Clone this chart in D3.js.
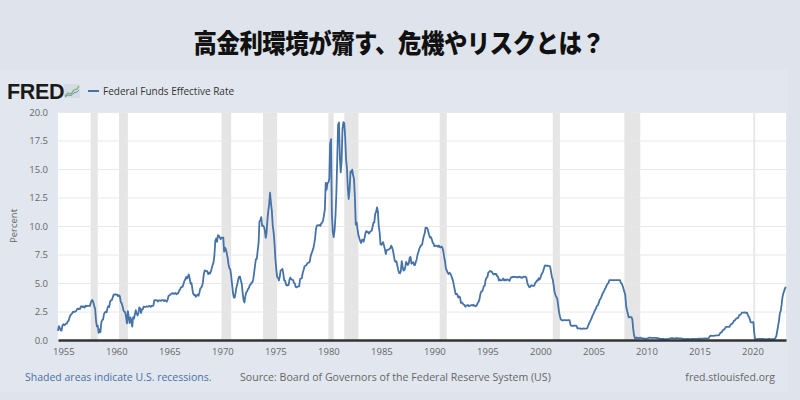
<!DOCTYPE html>
<html><head><meta charset="utf-8">
<script src="https://cdn.jsdelivr.net/npm/d3@7"></script>
<style>
body{margin:0;background:#dfe4ec;}
svg{display:block;}
</style></head>
<body>
<svg id="chart" width="800" height="400"></svg>
<script>
// ---- Data ----
const startYear = 1954, startMonth = 7; // monthly series begins July 1954
const rates = [
// 1954 Jul-Dec
0.80,1.22,1.07,0.85,0.83,1.28,
// 1955
1.39,1.29,1.35,1.43,1.43,1.64,1.68,1.96,2.18,2.24,2.35,2.48,
// 1956
2.45,2.50,2.50,2.62,2.75,2.71,2.75,2.73,2.95,2.96,2.88,2.94,
// 1957
2.84,3.00,2.96,3.00,3.00,3.00,2.99,3.24,3.47,3.50,3.28,2.98,
// 1958
2.72,1.67,1.20,1.26,0.63,0.93,0.68,1.53,1.76,1.80,2.27,2.42,
// 1959
2.48,2.43,2.80,2.96,2.90,3.39,3.47,3.50,3.76,3.98,4.00,3.99,
// 1960
3.99,3.97,3.84,3.92,3.85,3.32,3.23,2.98,2.60,2.47,2.44,1.98,
// 1961
1.45,2.54,2.02,1.49,1.98,1.73,1.17,2.00,1.88,2.26,2.61,2.33,
// 1962
2.15,2.37,2.85,2.78,2.36,2.68,2.71,2.93,2.90,2.90,2.94,2.93,
// 1963
2.92,3.00,2.98,2.90,3.00,2.99,3.02,3.49,3.48,3.50,3.48,3.38,
// 1964
3.48,3.48,3.43,3.47,3.50,3.50,3.42,3.50,3.45,3.36,3.52,3.85,
// 1965
3.90,3.98,4.04,4.09,4.10,4.04,4.09,4.12,4.01,4.08,4.10,4.32,
// 1966
4.42,4.60,4.65,4.67,4.90,5.17,5.30,5.53,5.40,5.53,5.76,5.40,
// 1967
4.94,5.00,4.53,4.05,3.94,3.98,3.79,3.90,3.99,3.88,4.13,4.51,
// 1968
4.60,4.71,5.05,5.76,6.11,6.07,6.02,6.03,5.78,5.91,5.82,6.02,
// 1969
6.30,6.61,6.79,7.41,8.67,8.90,8.61,9.19,9.15,9.00,8.85,8.97,
// 1970
8.98,8.98,7.76,8.10,7.95,7.61,7.21,6.61,6.29,6.20,5.60,4.90,
// 1971
4.14,3.72,3.71,4.16,4.63,4.91,5.31,5.56,5.55,5.20,4.91,4.14,
// 1972
3.50,3.29,3.83,4.17,4.27,4.46,4.55,4.80,4.87,5.04,5.06,5.33,
// 1973
5.94,6.58,7.09,7.12,7.84,8.49,10.40,10.50,10.78,10.01,10.03,9.95,
// 1974
9.65,8.97,9.35,10.51,11.31,11.93,12.92,12.01,11.34,10.06,9.45,8.53,
// 1975
7.13,6.24,5.54,5.49,5.22,5.55,6.10,6.14,6.24,5.82,5.22,5.20,
// 1976
4.87,4.77,4.84,4.82,5.29,5.48,5.31,5.29,5.25,5.02,4.95,4.65,
// 1977
4.61,4.68,4.69,4.73,5.35,5.39,5.42,5.90,6.14,6.47,6.51,6.56,
// 1978
6.70,6.78,6.79,6.89,7.36,7.60,7.81,8.04,8.45,8.96,9.76,10.03,
// 1979
10.07,10.06,10.09,10.01,10.24,10.29,10.47,10.94,11.43,13.77,13.18,13.78,
// 1980
13.82,14.13,17.19,17.61,10.98,9.47,9.03,9.61,10.87,12.81,15.85,18.90,
// 1981
19.08,15.93,14.70,15.72,18.52,19.10,19.04,17.82,15.87,15.08,13.31,12.37,
// 1982
13.22,14.78,14.68,14.94,14.45,14.15,12.59,10.12,10.31,9.71,9.20,8.95,
// 1983
8.68,8.51,8.77,8.80,8.63,8.98,9.37,9.56,9.45,9.48,9.34,9.47,
// 1984
9.56,9.59,9.91,10.29,10.32,11.06,11.23,11.64,11.30,9.99,9.43,8.38,
// 1985
8.35,8.50,8.58,8.27,7.97,7.53,7.88,7.90,7.92,7.99,8.05,8.27,
// 1986
8.14,7.86,7.48,6.99,6.85,6.92,6.56,6.17,5.89,5.85,6.04,6.91,
// 1987
6.43,6.10,6.13,6.37,6.85,6.73,6.58,6.73,7.22,7.29,6.69,6.77,
// 1988
6.83,6.58,6.58,6.87,7.09,7.51,7.75,8.01,8.19,8.30,8.35,8.76,
// 1989
9.12,9.36,9.85,9.84,9.81,9.53,9.24,8.99,9.02,8.84,8.55,8.45,
// 1990
8.23,8.24,8.28,8.26,8.18,8.29,8.15,8.13,8.20,8.11,7.81,7.31,
// 1991
6.91,6.25,6.12,5.91,5.78,5.90,5.82,5.66,5.45,5.21,4.81,4.43,
// 1992
4.03,4.06,3.98,3.73,3.82,3.76,3.25,3.30,3.22,3.10,3.09,2.92,
// 1993
3.02,3.03,3.07,2.96,3.00,3.04,3.06,3.03,3.09,2.99,3.02,2.96,
// 1994
3.05,3.25,3.34,3.56,4.01,4.25,4.26,4.47,4.73,4.76,5.29,5.45,
// 1995
5.53,5.92,5.98,6.05,6.01,6.00,5.85,5.74,5.80,5.76,5.80,5.60,
// 1996
5.56,5.22,5.31,5.22,5.24,5.27,5.40,5.22,5.30,5.24,5.31,5.29,
// 1997
5.25,5.19,5.39,5.51,5.50,5.56,5.52,5.54,5.54,5.50,5.52,5.50,
// 1998
5.56,5.51,5.49,5.45,5.49,5.56,5.54,5.55,5.51,5.07,4.83,4.68,
// 1999
4.63,4.76,4.81,4.74,4.74,4.76,4.99,5.07,5.22,5.20,5.42,5.30,
// 2000
5.45,5.73,5.85,6.02,6.27,6.53,6.54,6.50,6.52,6.51,6.51,6.40,
// 2001
5.98,5.49,5.31,4.80,4.21,3.97,3.77,3.65,3.07,2.49,2.09,1.82,
// 2002
1.73,1.74,1.73,1.75,1.75,1.75,1.73,1.74,1.75,1.75,1.34,1.24,
// 2003
1.24,1.26,1.25,1.26,1.26,1.22,1.01,1.03,1.01,1.01,1.00,0.98,
// 2004
1.00,1.01,1.00,1.00,1.00,1.03,1.26,1.43,1.61,1.76,1.93,2.16,
// 2005
2.28,2.50,2.63,2.79,3.00,3.04,3.26,3.50,3.62,3.78,4.00,4.16,
// 2006
4.29,4.49,4.59,4.79,4.94,4.99,5.24,5.25,5.25,5.25,5.25,5.24,
// 2007
5.25,5.26,5.26,5.25,5.25,5.25,5.26,5.02,4.94,4.76,4.49,4.24,
// 2008
3.94,2.98,2.61,2.28,1.98,2.00,2.01,2.00,1.81,0.97,0.39,0.16,
// 2009
0.15,0.22,0.18,0.15,0.18,0.21,0.16,0.16,0.15,0.12,0.12,0.12,
// 2010
0.11,0.13,0.16,0.20,0.20,0.18,0.18,0.19,0.19,0.19,0.19,0.18,
// 2011
0.17,0.16,0.14,0.10,0.09,0.09,0.07,0.10,0.08,0.07,0.08,0.07,
// 2012
0.08,0.10,0.13,0.14,0.16,0.16,0.16,0.13,0.14,0.16,0.16,0.16,
// 2013
0.14,0.15,0.14,0.15,0.11,0.09,0.09,0.08,0.08,0.09,0.08,0.09,
// 2014
0.07,0.07,0.08,0.09,0.09,0.10,0.09,0.09,0.09,0.09,0.09,0.12,
// 2015
0.11,0.11,0.11,0.12,0.12,0.13,0.13,0.14,0.14,0.12,0.12,0.24,
// 2016
0.34,0.38,0.36,0.37,0.37,0.38,0.39,0.40,0.40,0.40,0.41,0.54,
// 2017
0.65,0.66,0.79,0.90,0.91,1.04,1.15,1.16,1.15,1.15,1.16,1.30,
// 2018
1.41,1.42,1.51,1.69,1.70,1.82,1.91,1.91,1.95,2.19,2.20,2.27,
// 2019
2.40,2.40,2.41,2.42,2.39,2.38,2.40,2.13,2.04,1.83,1.55,1.55,
// 2020
1.55,1.58,0.65,0.05,0.05,0.08,0.09,0.10,0.09,0.09,0.09,0.09,
// 2021
0.09,0.08,0.07,0.07,0.06,0.08,0.10,0.09,0.08,0.08,0.08,0.08,
// 2022
0.08,0.08,0.20,0.33,0.77,1.21,1.68,2.33,2.56,3.08,3.78,4.10,
// 2023
4.33,4.57,4.65
];
// NBER recessions [start, end] as "YYYY-MM"
const recessions = [
  ["1957-08","1958-04"],["1960-04","1961-02"],["1969-12","1970-11"],
  ["1973-11","1975-03"],["1980-01","1980-07"],["1981-07","1982-11"],
  ["1990-07","1991-03"],["2001-03","2001-11"],["2007-12","2009-06"],
  ["2020-02","2020-04"]
];
const yTicks = [0, 2.5, 5, 7.5, 10, 12.5, 15, 17.5, 20];
const xTickYears = [1955,1960,1965,1970,1975,1980,1985,1990,1995,2000,2005,2010,2015,2020];
const titleText = "高金利環境が齎す、危機やリスクとは？";
const seriesName = "Federal Funds Effective Rate";
const yLabel = "Percent";
const noteText = "Shaded areas indicate U.S. recessions.";
const sourceText = "Source: Board of Governors of the Federal Reserve System (US)";
const siteText = "fred.stlouisfed.org";

// ---- Build ----
const data = rates.map((v, i) => ({ date: new Date(startYear, startMonth - 1 + i, 1), value: v }));
const parseYM = d3.timeParse("%Y-%m");

const svg = d3.select("#chart");
const W = 800, H = 400;
const plot = { left: 58, right: 786, top: 112, bottom: 340 };

// outer page bg + panel
svg.append("rect").attr("x",0).attr("y",0).attr("width",W).attr("height",H).attr("fill","#dfe4ec");
svg.append("rect").attr("x",0).attr("y",70).attr("width",788).attr("height",322).attr("fill","#e2e7ef");

// title (condensed heavy look)
svg.append("text").attr("transform","translate(399,53) scale(0.9,1)").attr("text-anchor","middle")
  .attr("font-family","'Noto Sans CJK JP', sans-serif").attr("font-weight",900)
  .attr("font-size",26).attr("fill","#111").attr("letter-spacing","-0.5")
  .text(titleText);

const x = d3.scaleTime()
  .domain([data[0].date, data[data.length-1].date])
  .range([plot.left, plot.right]);
const y = d3.scaleLinear().domain([0, 20]).range([plot.bottom, plot.top]);

// plot background
svg.append("rect").attr("x",plot.left).attr("y",plot.top)
  .attr("width",plot.right-plot.left).attr("height",plot.bottom-plot.top).attr("fill","#ffffff");

// recessions
svg.append("g").selectAll("rect").data(recessions).join("rect")
  .attr("x", d => x(parseYM(d[0])))
  .attr("width", d => Math.max(1.5, x(parseYM(d[1])) - x(parseYM(d[0]))))
  .attr("y", plot.top).attr("height", plot.bottom - plot.top)
  .attr("fill", "#e5e5e5");

// grid
const yAxis = d3.axisLeft(y).tickValues(yTicks).tickFormat(d3.format(".1f"))
  .tickSize(-(plot.right - plot.left)).tickPadding(10);
const gy = svg.append("g").attr("transform",`translate(${plot.left},0)`).call(yAxis);
gy.select(".domain").remove();
gy.selectAll(".tick line").attr("stroke","#e8e8e8").attr("stroke-width",1);
gy.selectAll(".tick text").attr("font-family","'Open Sans', Roboto, sans-serif")
  .attr("font-size",9.5).attr("fill","#666").attr("x",-10);

// line
const line = d3.line().x(d => x(d.date)).y(d => y(d.value));
svg.append("path").datum(data).attr("d", line)
  .attr("fill","none").attr("stroke","#4572a7").attr("stroke-width",1.8)
  .attr("stroke-linejoin","round");

// x axis
const xAxis = d3.axisBottom(x)
  .tickValues(xTickYears.map(yv => new Date(yv, 0, 1)))
  .tickFormat(d3.timeFormat("%Y")).tickSize(0).tickPadding(8);
const gx = svg.append("g").attr("transform",`translate(0,${plot.bottom})`).call(xAxis);
gx.select(".domain").attr("stroke","#333").attr("stroke-width",2.5);
gx.selectAll(".tick text").attr("font-family","'Open Sans', Roboto, sans-serif")
  .attr("font-size",9.5).attr("fill","#666");

// y label
svg.append("text").attr("transform","translate(17,226) rotate(-90)")
  .attr("text-anchor","middle").attr("font-family","'Open Sans', Roboto, sans-serif")
  .attr("font-size",9.5).attr("fill","#666").text(yLabel);

// FRED logo
svg.append("text").attr("x",7).attr("y",99).attr("font-family","'Liberation Sans', Arial, sans-serif")
  .attr("font-weight",900).attr("font-size",21.5).attr("fill","#1a1a1a").attr("letter-spacing","-0.3").text("FRED");
const icon = svg.append("g").attr("transform","translate(64,84)");
icon.append("rect").attr("width",16).attr("height",14).attr("fill","#d4dbe4").attr("rx",1);
icon.append("path").attr("d","M1,12 L4,9 L7,10 L10,6 L13,5 L15,2").attr("fill","none").attr("stroke","#7fb069").attr("stroke-width",1.3);
icon.append("path").attr("d","M1,13 L4,11 L7,11.5 L10,9 L13,8 L15,6").attr("fill","none").attr("stroke","#6a8fbf").attr("stroke-width",1);

// legend
svg.append("line").attr("x1",88).attr("x2",99).attr("y1",91).attr("y2",91)
  .attr("stroke","#4572a7").attr("stroke-width",2);
svg.append("text").attr("x",103).attr("y",94.5).attr("font-family","'Open Sans', Roboto, sans-serif")
  .attr("font-size",10).attr("fill","#333").text(seriesName);

// footer
svg.append("text").attr("x",25).attr("y",381).attr("font-family","'Open Sans', Roboto, sans-serif")
  .attr("font-size",10.5).attr("fill","#4a6fa5").text(noteText);
svg.append("text").attr("x",240).attr("y",381).attr("font-family","'Open Sans', Roboto, sans-serif")
  .attr("font-size",10.6).attr("fill","#666").text(sourceText);
svg.append("text").attr("x",775).attr("y",381).attr("text-anchor","end").attr("font-family","'Open Sans', Roboto, sans-serif")
  .attr("font-size",10.5).attr("fill","#666").text(siteText);
</script>
</body></html>
